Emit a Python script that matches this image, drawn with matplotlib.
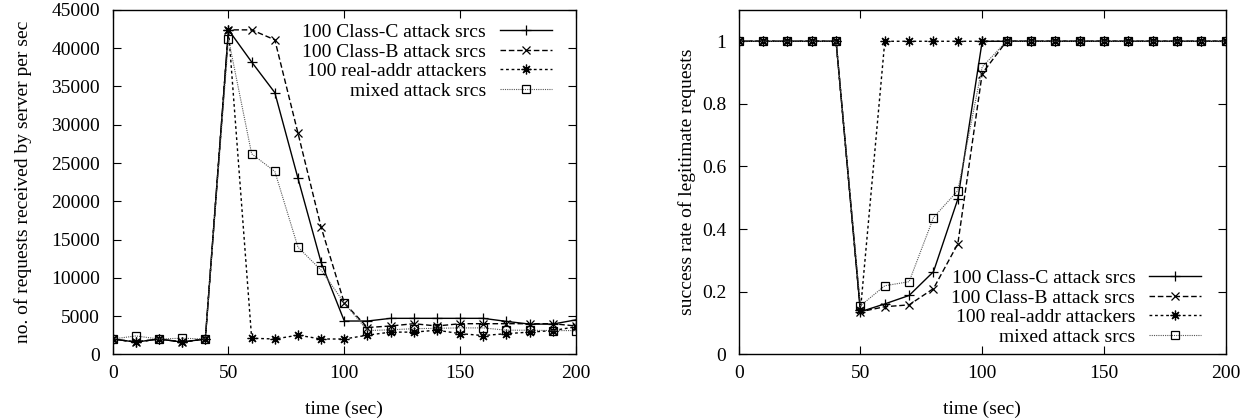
import matplotlib
matplotlib.use("Agg")
import matplotlib.pyplot as plt
from matplotlib.ticker import FuncFormatter

plt.rcParams["font.family"] = ["Liberation Serif", "DejaVu Serif"]
plt.rcParams["font.size"] = 14

# time axis (sec)
t = [0, 10, 20, 30, 40, 50, 60, 70, 80, 90, 100, 110, 120, 130, 140,
     150, 160, 170, 180, 190, 200]

# requests received by server per sec
req_classc = [2000, 1600, 2000, 1600, 2000, 42400, 38200, 34200, 23000, 12000,
              4350, 4350, 4700, 4700, 4700, 4700, 4700, 4300, 3950, 3950, 4500]
req_classb = [2000, 1600, 2000, 1600, 2000, 42400, 42400, 41100, 28900, 16600,
              6700, 3500, 3700, 4000, 3700, 4000, 4000, 4000, 4000, 4000, 3700]
req_real = [2000, 1600, 2000, 1600, 2000, 42400, 2100, 2000, 2500, 2000,
            2000, 2500, 2900, 2900, 3150, 2700, 2450, 2700, 2900, 3100, 3600]
req_mixed = [2000, 2400, 2000, 2100, 2000, 41200, 26200, 23900, 14000, 11000,
             6700, 3100, 3200, 3350, 3400, 3450, 3450, 3150, 3150, 3100, 3100]

# success rate of legitimate requests
succ_classc = [1, 1, 1, 1, 1, 0.136, 0.161, 0.188, 0.264, 0.496,
               1, 1, 1, 1, 1, 1, 1, 1, 1, 1, 1]
succ_classb = [1, 1, 1, 1, 1, 0.136, 0.152, 0.158, 0.21, 0.353,
               0.897, 1, 1, 1, 1, 1, 1, 1, 1, 1, 1]
succ_real = [1, 1, 1, 1, 1, 0.14, 1, 1, 1, 1,
             1, 1, 1, 1, 1, 1, 1, 1, 1, 1, 1]
succ_mixed = [1, 1, 1, 1, 1, 0.155, 0.219, 0.232, 0.437, 0.523,
              0.918, 1, 1, 1, 1, 1, 1, 1, 1, 1, 1]

labels = ["100 Class-C attack srcs", "100 Class-B attack srcs",
          "100 real-addr attackers", "mixed attack srcs"]

styles = [
    dict(color="black", lw=1.0, ls="-", marker="+", ms=7, mew=0.9),
    dict(color="black", lw=1.0, ls=(0, (4, 2)), marker="x", ms=5.5, mew=0.9),
    dict(color="black", lw=1.0, ls=(0, (2, 2)), marker=(8, 2, 0), ms=7, mew=0.9),
    dict(color="#555555", lw=0.8, ls=(0, (1, 1)), marker="s", ms=5.5, mew=0.9,
         mfc="none", mec="black"),
]


def style_axes(ax):
    ax.set_xlim(0, 200)
    ax.set_xticks([0, 50, 100, 150, 200])
    ax.tick_params(direction="in", length=6, width=0.8, top=True, right=True)
    ax.tick_params(axis="y", pad=9)
    ax.tick_params(axis="x", pad=8)
    for sp in ax.spines.values():
        sp.set_linewidth(1.0)
    ax.set_xlabel("time (sec)", labelpad=13)


legend_kw = dict(frameon=False, markerfirst=False, labelspacing=0.1,
                 handlelength=2.7, handletextpad=0.7, borderpad=0.2)

fig = plt.figure(figsize=(12.52, 4.19), dpi=100)

ax1 = fig.add_axes([0.09, 0.1544, 0.37, 0.8218])
for y, lab, st in zip([req_classc, req_classb, req_real, req_mixed], labels, styles):
    ax1.plot(t, y, label=lab, **st)
style_axes(ax1)
ax1.set_ylim(0, 45000)
ax1.set_yticks(range(0, 45001, 5000))
ax1.set_ylabel("no. of requests received by server per sec", labelpad=14)
ax1.legend(loc="upper right", bbox_to_anchor=(0.978, 1.0), **legend_kw)

ax2 = fig.add_axes([0.59, 0.1544, 0.389, 0.8218])
for y, lab, st in zip([succ_classc, succ_classb, succ_real, succ_mixed], labels, styles):
    ax2.plot(t, y, label=lab, **st)
style_axes(ax2)
ax2.set_ylim(0, 1.1)
ax2.set_yticks([0, 0.2, 0.4, 0.6, 0.8, 1])
ax2.yaxis.set_major_formatter(FuncFormatter(lambda v, p: f"{v:g}"))
ax2.set_ylabel("success rate of legitimate requests")
ax2.legend(loc="lower right", bbox_to_anchor=(0.978, -0.015), **legend_kw)

fig.savefig("out.png", dpi=100)
